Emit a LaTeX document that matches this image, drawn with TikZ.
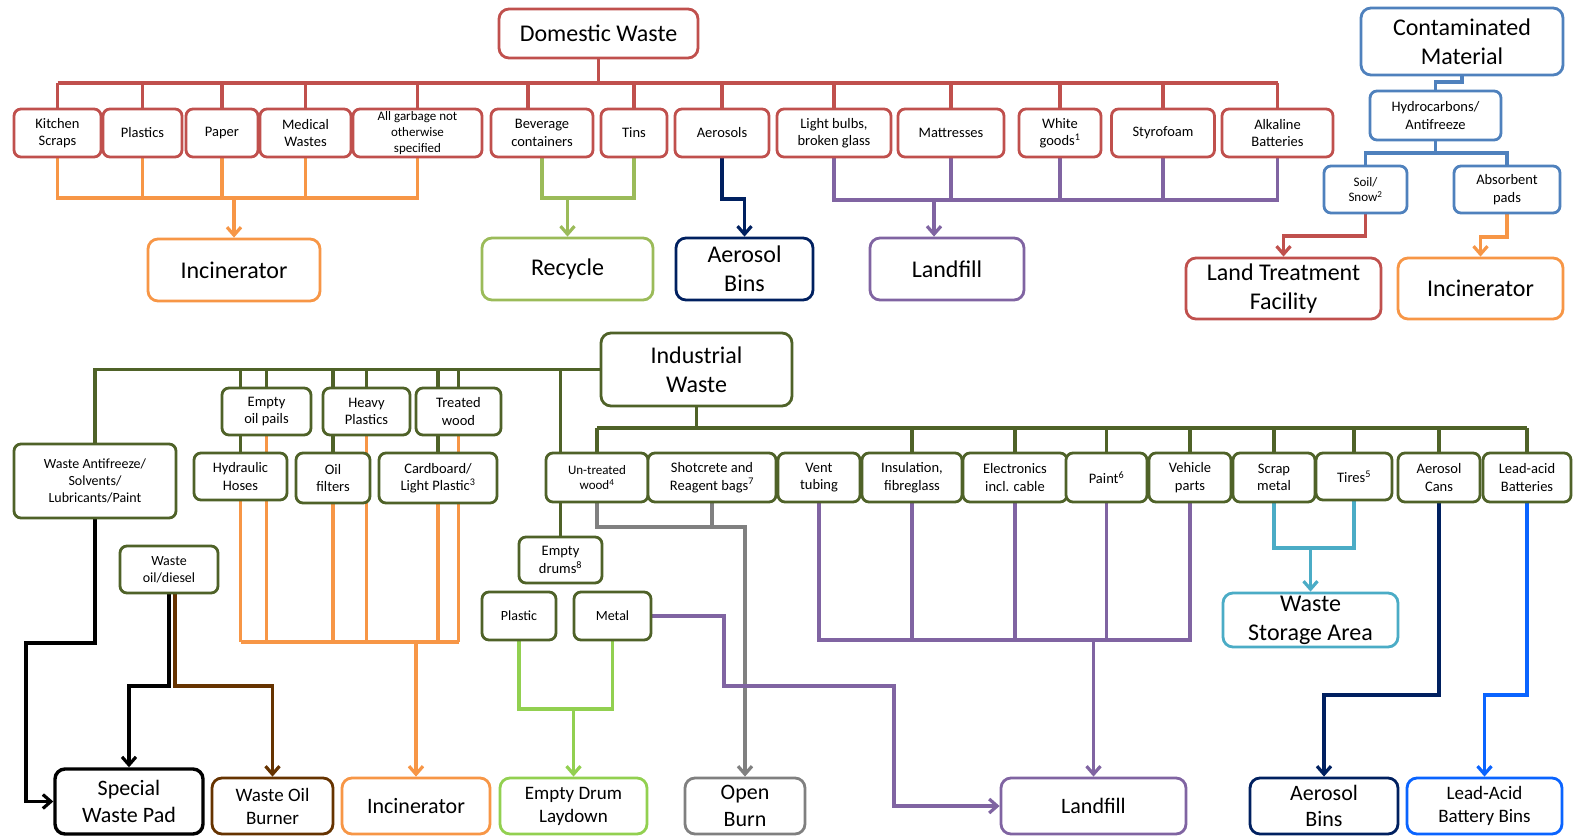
\documentclass[tikz,border=0pt]{standalone}
\usepackage{fontspec}
\setmainfont{Carlito}
\usetikzlibrary{arrows.meta}
\pgfdeclarelayer{back}
\pgfdeclarelayer{lines}
\pgfsetlayers{back,lines,main}
\definecolor{cRed}{HTML}{C0504D}
\definecolor{cOr}{HTML}{F79646}
\definecolor{cRg}{HTML}{9BBB59}
\definecolor{cNav}{HTML}{002060}
\definecolor{cPur}{HTML}{8064A2}
\definecolor{cBlu}{HTML}{4F81BD}
\definecolor{cOl}{HTML}{4F6228}
\definecolor{cCy}{HTML}{4BACC6}
\definecolor{cBg}{HTML}{92D050}
\definecolor{cGy}{HTML}{808080}
\definecolor{cBr}{HTML}{663300}
\definecolor{cBb}{HTML}{0A64FF}
\tikzset{
 box/.style={draw, fill=white, rounded corners=7pt, line width=2.8pt, align=center, inner sep=0pt, text=black},
 bigbox/.style={box, rounded corners=10pt},
 fS/.style={font=\fontsize{14.5pt}{17.5pt}\selectfont},
 fSS/.style={font=\fontsize{14pt}{17pt}\selectfont},
 fXS/.style={font=\fontsize{13pt}{15.6pt}\selectfont},
 fM/.style={font=\fontsize{19pt}{23pt}\selectfont},
 fB/.style={font=\fontsize{22pt}{26.5pt}\selectfont},
 fL/.style={font=\fontsize{24pt}{29pt}\selectfont},
 sz/.style 2 args={minimum width=#1pt, minimum height=#2pt},
 ln/.style={line width=3.2pt},
 arr/.style={-{Straight Barb[length=8pt,width=14pt]}},
}
\begin{document}
\begin{tikzpicture}[x=1pt,y=-1pt]
\begin{pgfonlayer}{back}
\fill[white] (0,0) rectangle (1573,836);
\end{pgfonlayer}
\useasboundingbox (0,0) rectangle (1573,836);

% ---------------- Domestic waste ----------------
\node[bigbox,draw=cRed,fL,sz={199}{49}] (dw) at (598.5,33.5) {Domestic Waste};
\begin{scope}[every node/.style={box,draw=cRed,fS}]
\node[sz={87}{48}] (ks) at (57.5,133) {Kitchen\\Scraps};
\node[sz={79}{48}] (pl) at (142.5,133) {Plastics};
\node[sz={72}{48}] (pa) at (222,133) {Paper};
\node[sz={91}{48}] (mw) at (305.5,133) {Medical\\Wastes};
\node[sz={129}{48},fXS] (ag) at (417.5,133) {All garbage not\\otherwise\\specified};
\node[sz={102}{48}] (bc) at (542,133) {Beverage\\containers};
\node[sz={66}{48}] (ti) at (634,133) {Tins};
\node[sz={94}{48}] (ae) at (722,133) {Aerosols};
\node[sz={114}{48}] (lb) at (834,133) {Light bulbs,\\broken glass};
\node[sz={106}{48}] (ma) at (951,133) {Mattresses};
\node[sz={82}{48}] (wg) at (1060,133) {White\\goods\textsuperscript{1}};
\node[sz={103}{48}] (st) at (1163,133) {Styrofoam};
\node[sz={111}{48}] (al) at (1277.5,133) {Alkaline\\Batteries};
\end{scope}
\node[bigbox,draw=cOr,fL,sz={172}{62}] (inc1) at (234,270) {Incinerator};
\node[bigbox,draw=cRg,fL,sz={171}{62}] (rec) at (567.5,269) {Recycle};
\node[bigbox,draw=cNav,fL,sz={137}{62}] (ab1) at (744.5,269) {Aerosol\\Bins};
\node[bigbox,draw=cPur,fL,sz={154}{62}] (lf1) at (947,269) {Landfill};

% ---------------- Contaminated ----------------
\node[bigbox,draw=cBlu,fL,sz={202}{67}] (cm) at (1462,41.5) {Contaminated\\Material};
\node[box,draw=cBlu,fS,sz={131}{49}] (hc) at (1435.5,115.5) {Hydrocarbons/\\Antifreeze};
\node[box,draw=cBlu,fXS,sz={83}{47}] (ss) at (1365.5,189.5) {Soil/\\Snow\textsuperscript{2}};
\node[box,draw=cBlu,fS,sz={106}{47}] (ap) at (1507,189.5) {Absorbent\\pads};
\node[bigbox,draw=cRed,fL,sz={195}{61}] (ltf) at (1283.5,288.5) {Land Treatment\\Facility};
\node[bigbox,draw=cOr,fL,sz={165}{61}] (inc2) at (1480.5,288.5) {Incinerator};

% ---------------- Industrial ----------------
\node[bigbox,draw=cOl,fL,sz={191}{73}] (iw) at (696.5,369.5) {Industrial\\Waste};
\begin{scope}[every node/.style={box,draw=cOl,fS}]
\node[sz={162}{74},fSS] (wa) at (95,481) {Waste Antifreeze/\\Solvents/\\Lubricants/Paint};
\node[sz={89}{47}] (eop) at (266.5,411.5) {Empty\\oil pails};
\node[sz={93}{47}] (hh) at (240.5,476.5) {Hydraulic\\Hoses};
\node[sz={87}{47}] (hp) at (366.5,411.5) {Heavy\\Plastics};
\node[sz={74}{50}] (of) at (333,478) {Oil\\filters};
\node[sz={85}{47}] (tw) at (458.5,411.5) {Treated\\wood};
\node[sz={118}{50}] (cb) at (438,478) {Cardboard/\\Light Plastic\textsuperscript{3}};
\node[sz={98}{47},fSS] (wod) at (169,569.5) {Waste\\oil/diesel};
\node[sz={102}{49},fXS] (ut) at (597,477.5) {Un-treated\\wood\textsuperscript{4}};
\node[sz={128}{49}] (sh) at (712,477.5) {Shotcrete and\\Reagent bags\textsuperscript{7}};
\node[sz={82}{49}] (vt) at (819,477.5) {Vent\\tubing};
\node[sz={100}{49}] (ins) at (912,477.5) {Insulation,\\fibreglass};
\node[sz={104}{49}] (el) at (1015,477.5) {Electronics\\incl. cable};
\node[sz={81}{49}] (pt) at (1106.5,477.5) {Paint\textsuperscript{6}};
\node[sz={82}{49}] (vp) at (1190,477.5) {Vehicle\\parts};
\node[sz={82}{49}] (sm) at (1274,477.5) {Scrap\\metal};
\node[sz={76}{47}] (tr) at (1354,476.5) {Tires\textsuperscript{5}};
\node[sz={82}{49}] (ac) at (1439,477.5) {Aerosol\\Cans};
\node[sz={88}{49}] (la) at (1527,477.5) {Lead-acid\\Batteries};
\node[sz={83}{46}] (ed) at (560.5,560) {Empty\\drums\textsuperscript{8}};
\node[sz={74}{48},fSS] (pls) at (519,616) {Plastic};
\node[sz={77}{48},fSS] (mtl) at (612.5,616) {Metal};
\end{scope}

\node[bigbox,draw=black,line width=3.4pt,fB,sz={148}{65}] (swp) at (129,801.5) {Special\\Waste Pad};
\node[bigbox,draw=cBr,fM,sz={121}{56}] (wob) at (272.5,806) {Waste Oil\\Burner};
\node[bigbox,draw=cOr,fB,sz={148}{56}] (inc3) at (416,806) {Incinerator};
\node[bigbox,draw=cBg,fM,sz={147}{56}] (edl) at (573.5,806) {Empty Drum\\Laydown};
\node[bigbox,draw=cGy,fB,sz={120}{56}] (ob) at (745,806) {Open\\Burn};
\node[bigbox,draw=cPur,fB,sz={185}{56}] (lf2) at (1093.5,806) {Landfill};
\node[bigbox,draw=cCy,fL,sz={175}{54}] (wsa) at (1310.5,620) {Waste\\Storage Area};
\node[bigbox,draw=cNav,fB,sz={148}{56}] (ab2) at (1324,806) {Aerosol\\Bins};
\node[bigbox,draw=cBb,fM,sz={155}{56}] (lab) at (1484.5,806) {Lead-Acid\\Battery Bins};

% ---------------- connectors ----------------
\begin{pgfonlayer}{lines}
\coordinate (dbus) at (0,83);
\coordinate (obus) at (0,198);
% domestic tree
\draw[ln,cRed] (dw.south) -- (dw.south |- dbus);
\draw[ln,cRed] (ks.north |- dbus) -- (al.north |- dbus);
\foreach \n in {ks,pl,pa,mw,ag,ti,ae,lb,ma,wg,st,al}
  \draw[ln,cRed] (\n.north) -- (\n.north |- dbus);
\draw[ln,cRed] ([xshift=-14pt]bc.north) -- ([xshift=-14pt]bc.north |- dbus);
% to incinerator
\draw[ln,cOr] (ks.south) |- (ag.south |- obus) -- (ag.south);
\foreach \n in {pl,pa,mw}
  \draw[ln,cOr] (\n.south) -- (\n.south |- obus);
\draw[ln,cOr,arr] (inc1.north |- obus) -- (inc1.north);
% to recycle
\draw[ln,cRg] (bc.south) |- (ti.south |- obus) -- (ti.south);
\draw[ln,cRg,arr] (rec.north |- obus) -- (rec.north);
% to aerosol bins
\draw[ln,cNav,arr] (ae.south) -- (ae.south |- 0,199) -| (ab1.north);
% to landfill
\draw[ln,cPur] (lb.south) |- (al.south |- 0,200) -- (al.south);
\foreach \n in {ma,wg,st}
  \draw[ln,cPur] (\n.south) -- (\n.south |- 0,200);
\draw[ln,cPur,arr] ([xshift=-13pt]lf1.north |- 0,200) -- ([xshift=-13pt]lf1.north);

% contaminated tree
\draw[ln,cBlu] (cm.south) -- (cm.south |- 0,82) -| (hc.north);
\draw[ln,cBlu] (hc.south) -- (hc.south |- 0,153);
\draw[ln,cBlu] (ss.north) |- (ap.north |- 0,153) -- (ap.north);
\draw[ln,cRed,arr] (ss.south) -- (ss.south |- 0,236) -| (ltf.north);
\draw[ln,cOr,arr] (ap.south) -- (ap.south |- 0,237) -| (inc2.north);

% industrial tree, left
\coordinate (lbus) at (0,369);
\draw[ln,cOl] (iw.west) -- (wa.north |- iw.west) -- (wa.north);
\foreach \n in {hh,eop,of,hp,cb,tw,ed}
  \draw[ln,cOl] (\n.north |- lbus) -- (\n.north);
\coordinate (ibus) at (0,642);
\draw[ln,cOr] (hh.south |- ibus) -- (tw.south |- ibus);
\foreach \n in {hh,eop,of,hp,cb,tw}
  \draw[ln,cOr] (\n.south) -- (\n.south |- ibus);
\draw[ln,cOr,arr] (inc3.north |- ibus) -- (inc3.north);
% special waste / waste oil
\draw[ln,black,arr] (wa.south) |- (26,643) |- (swp.west);
\draw[ln,black,arr] (wod.south) -- (wod.south |- 0,686) -| (swp.north);
\draw[ln,cBr,arr] ([xshift=6pt]wod.south) -- ([xshift=6pt]wod.south |- 0,686) -| (wob.north);

% industrial tree, right
\coordinate (rbus) at (0,428);
\draw[ln,cOl] (iw.south) -- (iw.south |- rbus);
\draw[ln,cOl] (ut.north |- rbus) -- (la.north |- rbus);
\foreach \n in {ut,ins,el,pt,vp,sm,tr,ac,la}
  \draw[ln,cOl] (\n.north) -- (\n.north |- rbus);
% open burn
\draw[ln,cGy,arr] (ut.south) -- (ut.south |- 0,527) -| (ob.north);
\draw[ln,cGy] (sh.south) -- (sh.south |- 0,527);
% empty drums
\draw[ln,cBg] (pls.south) |- (mtl.south |- 0,709) -- (mtl.south);
\draw[ln,cBg,arr] (edl.north |- 0,709) -- (edl.north);
% metal drums to landfill
\draw[ln,cPur,arr] (mtl.east) -| (724,686) -| (894,806) -- (lf2.west);
% landfill
\draw[ln,cPur] (vt.south) |- (vp.south |- 0,640) -- (vp.south);
\foreach \n in {ins,el,pt}
  \draw[ln,cPur] (\n.south) -- (\n.south |- 0,640);
\draw[ln,cPur,arr] (lf2.north |- 0,640) -- (lf2.north);
% waste storage
\draw[ln,cCy] (sm.south) |- (tr.south |- 0,548) -- (tr.south);
\draw[ln,cCy,arr] (wsa.north |- 0,548) -- (wsa.north);
% aerosol / batteries
\draw[ln,cNav,arr] (ac.south) -- (ac.south |- 0,695) -| (ab2.north);
\draw[ln,cBb,arr] (la.south) -- (la.south |- 0,695) -| (lab.north);
\end{pgfonlayer}
\end{tikzpicture}
\end{document}
